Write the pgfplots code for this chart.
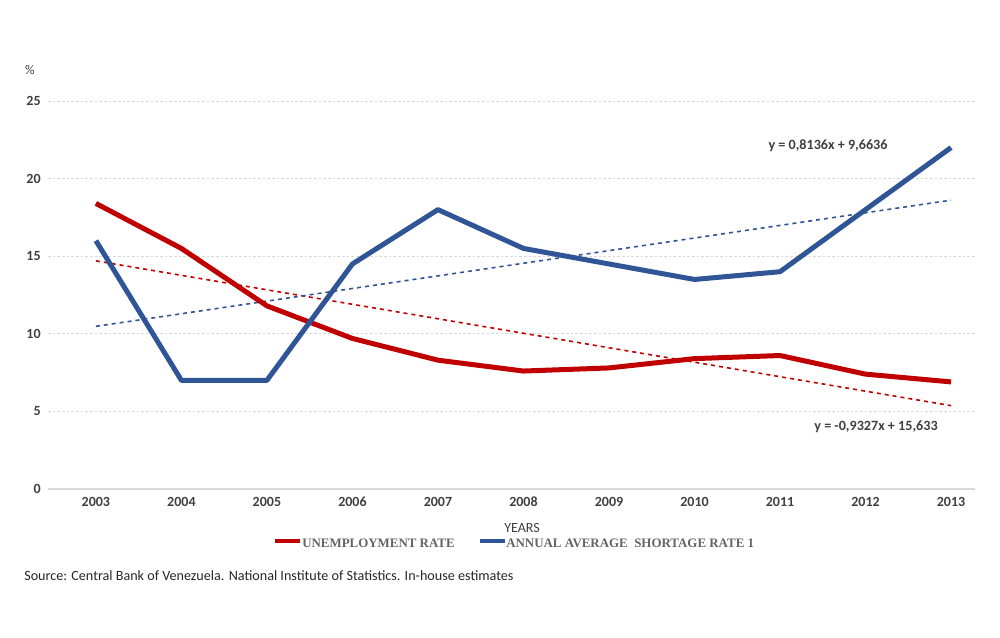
\documentclass[border=0pt]{standalone}
\usepackage{pgfplots}
\pgfplotsset{compat=1.18}
\usepackage{fontspec}
\setmainfont{Carlito}
\newfontfamily\legfont{Liberation Serif}
\definecolor{ured}{RGB}{192,0,0}
\definecolor{sblue}{RGB}{47,85,151}
\definecolor{tickgray}{RGB}{64,64,64}
\definecolor{leggray}{RGB}{100,100,100}
\definecolor{gridgray}{RGB}{217,217,217}
\begin{document}
\begin{tikzpicture}[x=0.75pt,y=0.75pt]
\path[use as bounding box] (0,0) rectangle (1000,638);
\begin{axis}[
  at={(36pt,111.75pt)}, anchor=south west,
  scale only axis, width=695.25pt, height=291pt,
  xmin=0.44, xmax=11.28, ymin=0, ymax=25,
  axis line style={draw=none},
  major tick length=0pt,
  xtick={1,2,3,4,5,6,7,8,9,10,11},
  xticklabels={2003,2004,2005,2006,2007,2008,2009,2010,2011,2012,2013},
  ytick={0,5,10,15,20,25},
  ymajorgrids, grid style={dash pattern=on 2pt off 1.5pt, gridgray, line width=0.6pt},
  /pgf/number format/assume math mode=true,
  tick label style={font=\bfseries\fontsize{10.5}{12}\selectfont, text=tickgray},
  xticklabel style={yshift=-2.5pt},
  yticklabel style={xshift=-2pt},
  clip=false,
]
\draw[gridgray, line width=0.8pt] (axis cs:0.44,0) -- (axis cs:11.28,0);
\addplot[ured, dashed, line width=1.2pt, forget plot] coordinates {(1,14.70) (11,5.37)};
\addplot[sblue, dashed, line width=1.2pt, forget plot] coordinates {(1,10.48) (11,18.61)};
\addplot[ured, line width=3.75pt, line join=round, no markers] coordinates {
(1,18.4) (2,15.5) (3,11.8) (4,9.7) (5,8.3) (6,7.6) (7,7.8) (8,8.4) (9,8.6) (10,7.4) (11,6.9)};
\addplot[sblue, line width=3.75pt, line join=round, no markers] coordinates {
(1,16.0) (2,7.0) (3,7.0) (4,14.5) (5,18.0) (6,15.5) (7,14.5) (8,13.5) (9,14.0) (10,18.0) (11,22.0)};
\end{axis}
\node[font=\fontsize{10}{11}\selectfont, text=tickgray] at (30,568) {\%};
\node[font=\fontsize{10.5}{12}\selectfont, text=tickgray] at (522,110) {YEARS};
\node[font=\bfseries\fontsize{10.6}{12}\selectfont, text=tickgray] at (828,492) {y = 0,8136x + 9,6636};
\node[font=\bfseries\fontsize{10.6}{12}\selectfont, text=tickgray] at (876,211) {y = -0,9327x + 15,633};
\draw[ured, line width=3pt] (275,97) -- (300,97);
\node[anchor=west, inner sep=0pt, font=\legfont\bfseries\fontsize{9.7}{11}\selectfont, text=leggray] at (302,95) {UNEMPLOYMENT RATE};
\draw[sblue, line width=3pt] (480,97) -- (505,97);
\node[anchor=west, inner sep=0pt, font=\legfont\bfseries\fontsize{9.7}{11}\selectfont, text=leggray] at (506,95) {ANNUAL AVERAGE\ \ SHORTAGE RATE 1};
\node[anchor=west, inner sep=0pt, font=\fontsize{10.6}{12}\selectfont, text=black!85] at (24,62) {Source: Central Bank of Venezuela. National Institute of Statistics. In-house estimates};
\end{tikzpicture}
\end{document}
